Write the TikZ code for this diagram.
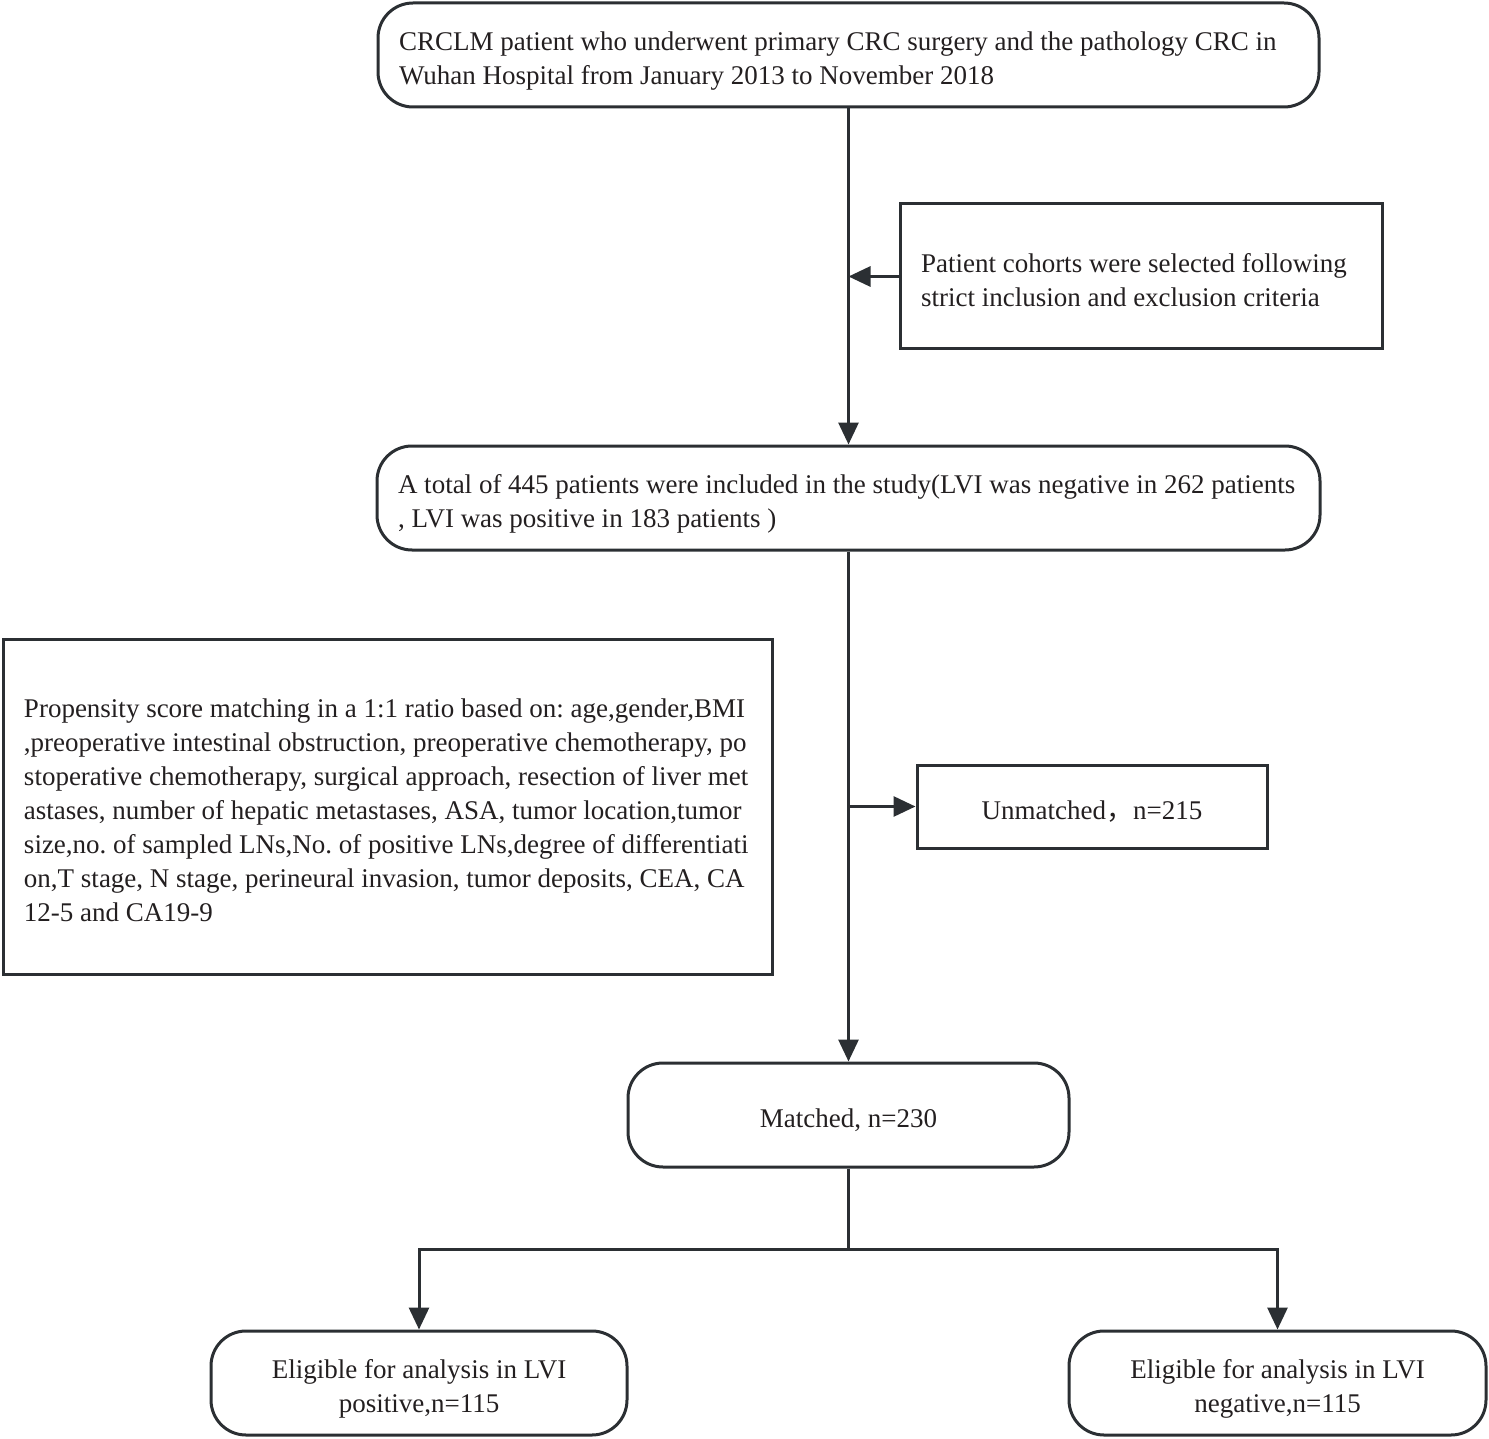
\documentclass[tikz,border=0pt]{standalone}
\usepackage{fontspec}
\setmainfont{Liberation Serif}
\newfontfamily\cjk{Noto Sans CJK SC}
\usetikzlibrary{arrows.meta}
\definecolor{ln}{HTML}{2B2F33}
\definecolor{tx}{HTML}{231F20}
\frenchspacing
\newcommand\lineof[1]{\mbox{\spaceskip=0pt\xspaceskip=0pt\relax #1}}
\newcommand\st{\rule{0pt}{16.7pt}}
\newcommand\sd{\rule[-4pt]{0pt}{0pt}}
\begin{document}
\begin{tikzpicture}[x=0.5pt,y=-0.5pt,
  every node/.style={font=\fontsize{13.5pt}{17pt}\selectfont, text=tx},
  base/.style={draw=ln, line width=1.5pt, inner xsep=10.5pt, inner ysep=0pt},
  rbox/.style={base, rounded corners=17.5pt, minimum height=52pt},
  sbox/.style={base},
  arr/.style={draw=ln, line width=1.5pt, -{Triangle[length=11pt,width=10pt]}},
  ln/.style={draw=ln, line width=1.5pt}]
\useasboundingbox (0,0) rectangle (1489,1439);

\node[rbox, text width=449.5pt, align=left] (n1) at (848.5,55)
  {\st\lineof{CRCLM patient who underwent primary CRC surgery and the pathology CRC in}\\
   \lineof{Wuhan Hospital from January 2013 to November 2018}\sd};

\node[sbox, text width=220pt, minimum height=72.5pt, align=left] (n2) at (1141,276.5)
  {\st\lineof{Patient cohorts were selected following}\\
   \lineof{strict inclusion and exclusion criteria}\sd};

\node[rbox, text width=450.5pt, align=left] (n3) at (848.5,498)
  {\st\lineof{A total of 445 patients were included in the study(LVI was negative in 262 patients}\\
   \lineof{, LVI was positive in 183 patients )}\sd};

\node[sbox, text width=363.5pt, minimum height=167.5pt, align=left] (n4) at (387.5,806.5)
  {\st\lineof{Propensity score matching in a 1:1 ratio based on: age,gender,BMI}\\
   \lineof{,preoperative intestinal obstruction, preoperative chemotherapy, po}\\
   \lineof{stoperative chemotherapy, surgical approach, resection of liver met}\\
   \lineof{astases, number of hepatic metastases, ASA, tumor location,tumor}\\
   \lineof{size,no. of sampled LNs,No. of positive LNs,degree of differentiati}\\
   \lineof{on,T stage, N stage, perineural invasion, tumor deposits, CEA, CA}\\
   \lineof{12-5 and CA19-9}\sd};

\node[sbox, minimum width=175pt, minimum height=41.5pt] (n5) at (1092,806.5)
  {\st Unmatched{\cjk ，}n=215\sd};

\node[rbox, minimum width=220.5pt] (n6) at (848.5,1115) {\st Matched, n=230\sd};

\node[rbox, minimum width=208pt, align=center] (n7) at (419,1383)
  {\st Eligible for analysis in LVI\\positive,n=115\sd};

\node[rbox, minimum width=208.5pt, align=center] (n8) at (1277.5,1383)
  {\st Eligible for analysis in LVI\\negative,n=115\sd};

\coordinate (j) at (848.5,1249);

\draw[arr] (n1.south) -- (n3.north);
\draw[arr] (n2.west) -- (n2.west -| n1.south);
\draw[arr] (n3.south) -- (n6.north);
\draw[arr] (n3.south |- n5.west) -- (n5.west);
\draw[ln] (n6.south) -- (j);
\draw[arr] (j) -| (n7.north);
\draw[arr] (j) -| (n8.north);
\end{tikzpicture}
\end{document}
